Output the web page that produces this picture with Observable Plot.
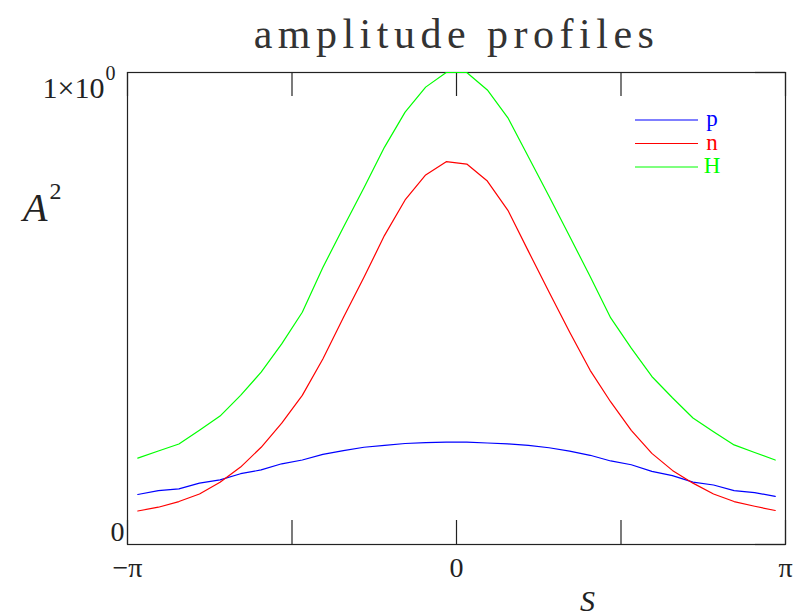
<!DOCTYPE html>
<html>
<head>
<meta charset="utf-8">
<script src="https://cdn.jsdelivr.net/npm/d3@7"></script>
<script src="https://cdn.jsdelivr.net/npm/@observablehq/plot@0.6"></script>
<style>
  html, body { margin: 0; padding: 0; background: #fff; }
  #chart svg { display: block; }
</style>
</head>
<body>
<div id="chart"></div>
<script>
// Sampling grid: 32 cell midpoints across one period, -π … π
const N = 32;
const sGrid = d3.range(N).map(i => -Math.PI + (i + 0.5) * 2 * Math.PI / N);

// Squared amplitude of each species along S
const pValues = [0.106, 0.114, 0.118, 0.130, 0.137, 0.150, 0.158, 0.171, 0.179, 0.191, 0.199, 0.206, 0.210, 0.214, 0.216, 0.217,
                 0.217, 0.215, 0.213, 0.210, 0.205, 0.198, 0.189, 0.177, 0.169, 0.155, 0.146, 0.132, 0.126, 0.114, 0.110, 0.102];
const nValues = [0.071, 0.079, 0.091, 0.107, 0.132, 0.164, 0.206, 0.257, 0.316, 0.393, 0.481, 0.566, 0.655, 0.730, 0.783, 0.811,
                 0.806, 0.770, 0.708, 0.621, 0.535, 0.450, 0.369, 0.302, 0.242, 0.193, 0.157, 0.130, 0.107, 0.091, 0.081, 0.072];
const hValues = [0.183, 0.198, 0.213, 0.242, 0.272, 0.316, 0.365, 0.425, 0.492, 0.587, 0.672, 0.756, 0.842, 0.916, 0.969, 1.000,
                 1.000, 0.963, 0.904, 0.821, 0.738, 0.653, 0.568, 0.480, 0.416, 0.356, 0.311, 0.268, 0.239, 0.211, 0.195, 0.179];

const species = ["p", "n", "H"];
const speciesColors = ["#0000ff", "#ff0000", "#00ff00"];

// Axis ticks and their labels
const xTicks = [-Math.PI, -Math.PI / 2, 0, Math.PI / 2, Math.PI];
const xTickLabels = [{v: -Math.PI, t: "\u2212\u03c0"}, {v: 0, t: "0"}, {v: Math.PI, t: "\u03c0"}];
const yTicks = [0, 1];

const rows = [];
[pValues, nValues, hValues].forEach((vals, k) => {
  vals.forEach((v, i) => rows.push({s: sGrid[i], a2: v, species: species[k]}));
});

const serif = "'Liberation Serif', 'DejaVu Serif', serif";
const ink = "#222";

const W = 794, H = 616;
const mL = 127, mR = 9, mT = 72, mB = 72;
const fw = W - mL - mR, fh = H - mT - mB;

const chart = Plot.plot({
  width: W,
  height: H,
  marginLeft: mL,
  marginRight: mR,
  marginTop: mT,
  marginBottom: mB,
  style: {background: "#fff", fontFamily: serif},
  x: {domain: [-Math.PI, Math.PI], axis: null},
  y: {domain: [0, 1], axis: null},
  color: {domain: species, range: speciesColors},
  marks: [
    // inward ticks on all four sides
    Plot.tickX(xTicks, {x: d => d, insetTop: fh - 24, stroke: ink, strokeWidth: 1.2}),
    Plot.tickX(xTicks, {x: d => d, insetBottom: fh - 24, stroke: ink, strokeWidth: 1.2}),
    Plot.tickY(yTicks, {y: d => d, insetRight: fw - 33, stroke: ink, strokeWidth: 1.2}),
    Plot.tickY(yTicks, {y: d => d, insetLeft: fw - 30, stroke: ink, strokeWidth: 1.2}),
    Plot.frame({stroke: ink, strokeWidth: 1.2}),
    Plot.line(rows, {x: "s", y: "a2", z: "species", stroke: "species", strokeWidth: 1.2}),
    // x tick labels
    Plot.text(xTickLabels, {x: "v", text: "t", frameAnchor: "bottom", dy: 32, fontSize: 28, fill: ink, fontFamily: serif}),
    // y tick labels
    Plot.text(["0"], {frameAnchor: "bottom-left", dx: -17, dy: -4, fontSize: 28, fill: ink, fontFamily: serif}),
    Plot.text(["1\u00d710"], {frameAnchor: "top-left", dx: -23, dy: 4, textAnchor: "end", fontSize: 30, fill: ink, fontFamily: serif}),
    Plot.text(["0"], {frameAnchor: "top-left", dx: -22, dy: -7, textAnchor: "start", fontSize: 20, fill: ink, fontFamily: serif}),
    // axis titles
    Plot.text(["S"], {frameAnchor: "bottom", dx: 131, dy: 66, fontSize: 30, fontStyle: "italic", fill: ink, fontFamily: serif}),
    Plot.text(["A"], {frameAnchor: "left", dx: -80, dy: -100, textAnchor: "end", fontSize: 40, fontStyle: "italic", fill: ink, fontFamily: serif}),
    Plot.text(["2"], {frameAnchor: "left", dx: -78, dy: -117, textAnchor: "start", fontSize: 24, fill: ink, fontFamily: serif}),
    // chart title
    Plot.text(["amplitude profiles"], {frameAnchor: "top", dy: -54, fontSize: 42, fill: "#333", fontFamily: serif})
  ]
});

// widen the title's letter spacing
d3.select(chart).selectAll("text")
  .filter(function () { return this.textContent === "amplitude profiles"; })
  .attr("letter-spacing", "5.5px");

// legend: short line samples with coloured labels, inside the frame's upper right
const legend = d3.select(chart).append("g").attr("font-family", serif).attr("font-size", 23);
species.forEach((name, k) => {
  const y = 120 + k * 23.5;
  legend.append("line")
    .attr("x1", 635).attr("x2", 698).attr("y1", y).attr("y2", y)
    .attr("stroke", speciesColors[k]).attr("stroke-width", 1.2);
  legend.append("text")
    .attr("x", 712).attr("y", y + 6)
    .attr("fill", speciesColors[k])
    .text(name);
});

document.getElementById("chart").appendChild(chart);
</script>
</body>
</html>
